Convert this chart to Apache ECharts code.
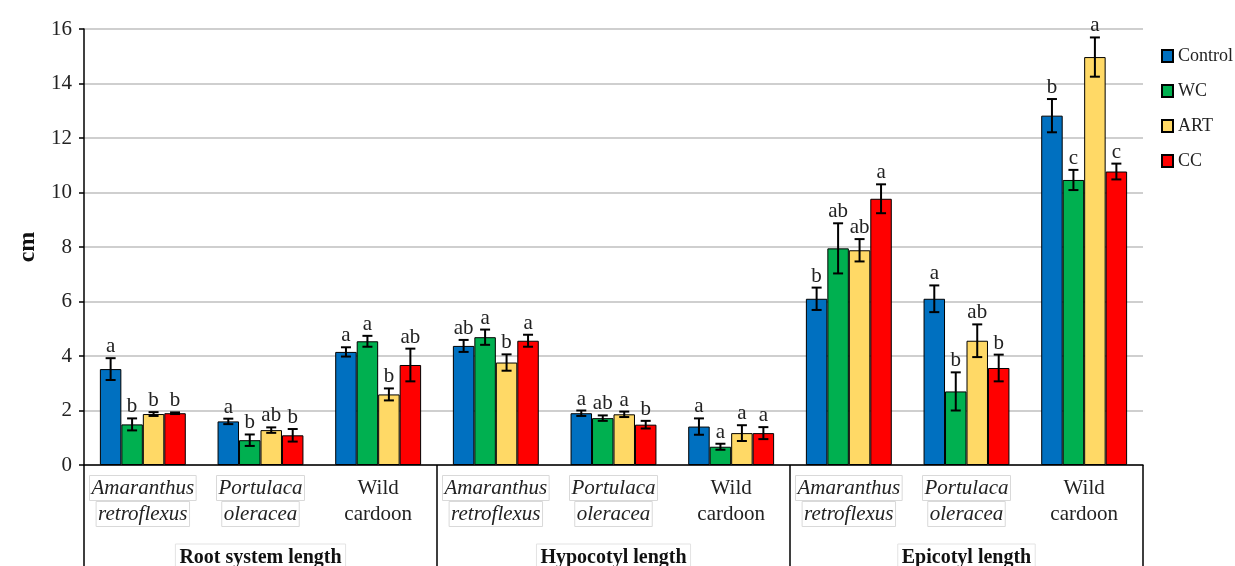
<!DOCTYPE html>
<html>
<head>
<meta charset="utf-8">
<script src="https://cdn.jsdelivr.net/npm/echarts@6/dist/echarts.min.js"></script>
<style>
  html, body { margin: 0; padding: 0; background: #fff; }
  #main { width: 1235px; height: 566px; }
</style>
</head>
<body>
<div id="main"></div>
<script>
// categories: 3 species in each of 3 measurements
const species = ['Amaranthus\nretroflexus', 'Portulaca\noleracea', 'Wild\ncardoon'];
const categories = species.concat(species, species);
const groups = ['Root system length', 'Hypocotyl length', 'Epicotyl length'];
const treatments = ['Control', 'WC', 'ART', 'CC'];

const control = [3.52, 1.60, 4.15, 4.37, 1.90, 1.41, 6.10, 6.10, 12.82];
const controlErr = [0.40, 0.10, 0.17, 0.22, 0.10, 0.30, 0.41, 0.49, 0.61];
const controlLetters = ['a', 'a', 'a', 'ab', 'a', 'a', 'b', 'a', 'b'];

const wc = [1.49, 0.91, 4.54, 4.69, 1.72, 0.67, 7.95, 2.70, 10.46];
const wcErr = [0.22, 0.21, 0.20, 0.28, 0.10, 0.11, 0.92, 0.70, 0.37];
const wcLetters = ['b', 'b', 'a', 'a', 'ab', 'a', 'ab', 'b', 'c'];

const art = [1.87, 1.28, 2.59, 3.76, 1.86, 1.17, 7.88, 4.56, 14.97];
const artErr = [0.07, 0.10, 0.22, 0.30, 0.10, 0.29, 0.41, 0.60, 0.72];
const artLetters = ['b', 'ab', 'b', 'b', 'a', 'a', 'ab', 'ab', 'a'];

const cc = [1.90, 1.09, 3.67, 4.56, 1.48, 1.17, 9.77, 3.56, 10.77];
const ccErr = [0.03, 0.23, 0.60, 0.22, 0.14, 0.22, 0.53, 0.49, 0.29];
const ccLetters = ['b', 'b', 'ab', 'a', 'b', 'a', 'a', 'b', 'c'];

const colors = ['#0070C0', '#00B050', '#FFD966', '#FF0000'];
const means = [control, wc, art, cc];
const errs = [controlErr, wcErr, artErr, ccErr];
const letters = [controlLetters, wcLetters, artLetters, ccLetters];

const serif = '"Liberation Serif", "Times New Roman", serif';
const gapRatio = 0.27;

const myChart = echarts.init(document.getElementById('main'));

const barSeries = treatments.map(function (name, k) {
    return {
        name: name,
        type: 'bar',
        xAxisIndex: 0,
        data: means[k],
        barGap: 0,
        barCategoryGap: (gapRatio * 100) + '%',
        itemStyle: { color: colors[k], borderColor: '#000', borderWidth: 1 },
        emphasis: { disabled: true },
        z: 2
    };
});

// error bars + significance letters
const errSeries = treatments.map(function (name, k) {
    return {
        name: name + ' err',
        type: 'custom',
        xAxisIndex: 0,
        clip: false,
        z: 5,
        encode: { x: 0, y: 1 },
        data: means[k].map(function (v, i) { return [i, v, errs[k][i]]; }),
        renderItem: function (params, api) {
            const cat = api.value(0), m = api.value(1), e = api.value(2);
            const band = api.size([1, 0])[0];
            const bw = band * (1 - gapRatio) / 4;
            const c = api.coord([cat, m]);
            const x = c[0] + (k - 1.5) * bw;
            const yTop = api.coord([cat, m + e])[1];
            const yBot = api.coord([cat, m - e])[1];
            const cap = 5;
            const ls = { stroke: '#000', lineWidth: 2 };
            return {
                type: 'group',
                children: [
                    { type: 'line', shape: { x1: x, y1: yTop, x2: x, y2: yBot }, style: ls },
                    { type: 'line', shape: { x1: x - cap, y1: yTop, x2: x + cap, y2: yTop }, style: ls },
                    { type: 'line', shape: { x1: x - cap, y1: yBot, x2: x + cap, y2: yBot }, style: ls },
                    {
                        type: 'text',
                        style: {
                            text: letters[k][params.dataIndex],
                            x: x, y: yTop - 1,
                            align: 'center', verticalAlign: 'bottom',
                            fontSize: 21, fontFamily: serif, fill: '#222'
                        }
                    }
                ]
            };
        }
    };
});

var option = {
    animation: false,
    grid: { left: 84, right: 92, top: 29, bottom: 101, containLabel: false, outerBoundsMode: 'none' },
    legend: {
        data: treatments,
        orient: 'vertical',
        left: 1156,
        top: 42,
        icon: 'rect',
        itemWidth: 11,
        itemHeight: 12,
        itemGap: 17,
        textStyle: { fontFamily: serif, fontSize: 18, color: '#222' }
    },
    xAxis: [
        {
            type: 'category',
            data: categories,
            position: 'bottom',
            axisLine: { lineStyle: { color: '#000', width: 1.5 } },
            axisTick: { show: false },
            axisLabel: {
                interval: 0,
                margin: 10,
                formatter: function (v) {
                    return v.indexOf('Wild') === 0 ? '{n|' + v + '}' : '{i|' + v + '}';
                },
                rich: {
                    i: {
                        fontFamily: serif, fontStyle: 'italic', fontSize: 21, lineHeight: 26,
                        color: '#222', borderColor: '#d9d9d9', borderWidth: 1, padding: [2, 2, 2, 2]
                    },
                    n: { fontFamily: serif, fontSize: 21, lineHeight: 26, color: '#222', padding: [2, 2, 2, 2] }
                }
            }
        },
        {
            type: 'category',
            data: groups,
            position: 'bottom',
            axisLine: { show: false },
            axisTick: { show: true, length: 105, lineStyle: { color: '#000', width: 1.5 } },
            axisLabel: {
                interval: 0,
                margin: 79,
                formatter: function (v) { return '{g|' + v + '}'; },
                rich: {
                    g: {
                        fontFamily: serif, fontWeight: 'bold', fontSize: 20, color: '#111',
                        borderColor: '#e3e3e3', borderWidth: 1, padding: [4, 4, 6, 4]
                    }
                }
            }
        }
    ],
    yAxis: {
        type: 'value',
        min: 0,
        max: 16,
        interval: 2,
        name: 'cm',
        nameLocation: 'middle',
        nameGap: 44,
        nameTextStyle: { fontFamily: serif, fontWeight: 'bold', fontSize: 24, color: '#111' },
        axisLine: { show: true, lineStyle: { color: '#000', width: 1.5 } },
        axisTick: { show: true, length: 5, lineStyle: { color: '#000', width: 1.5 } },
        axisLabel: { fontFamily: serif, fontSize: 21, color: '#222', margin: 12 },
        splitLine: { lineStyle: { color: '#BFBFBF', width: 1.5 } }
    },
    series: barSeries.concat(errSeries)
};

myChart.setOption(option);
</script>
</body>
</html>
